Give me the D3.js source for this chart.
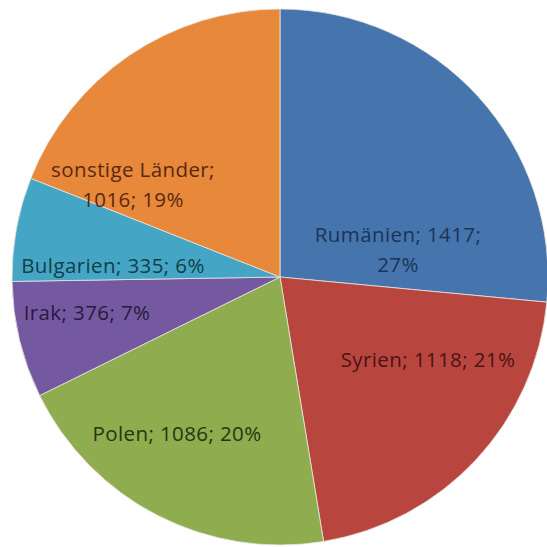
<!DOCTYPE html>
<html><head><meta charset="utf-8">
<script src="https://cdn.jsdelivr.net/npm/d3@7"></script>
<style>html,body{margin:0;padding:0;background:#fff;}svg{display:block;}</style>
</head><body>
<script>
const categories = ["Rumänien", "Syrien", "Polen", "Irak", "Bulgarien", "sonstige Länder"];
const values = [1417, 1118, 1086, 376, 335, 1016];
const percentLabels = ["27%", "21%", "20%", "7%", "6%", "19%"];
const colors = ["#4674ad", "#b8463f", "#8fad4f", "#7559a0", "#44a6c4", "#e8883a"];
const textColors = ["#1b3458", "#4a1412", "#26360f", "#281a40", "#123e4c", "#5a2810"];

const W = 547, H = 547, cx = 280, cy = 277, R = 268;
// label line layout (offsets from pie centre), per slice
const labelLayout = [
  {dx: 118, dy: -27, lines: (c,v,p) => [c + "; " + v + ";", p]},
  {dx: 148, dy: 83,  lines: (c,v,p) => [c + "; " + v + "; " + p]},
  {dx: -103, dy: 157, lines: (c,v,p) => [c + "; " + v + "; " + p]},
  {dx: -193, dy: 36, lines: (c,v,p) => [c + "; " + v + "; " + p]},
  {dx: -167, dy: -11, lines: (c,v,p) => [c + "; " + v + "; " + p]},
  {dx: -147, dy: -92, lines: (c,v,p) => [c + ";", v + "; " + p]}
];

const svg = d3.select("body").append("svg").attr("width", W).attr("height", H);
const g = svg.append("g").attr("transform", `translate(${cx},${cy})`);

const data = categories.map((c, i) => ({c, v: values[i], p: percentLabels[i], i}));
const pie = d3.pie().value(d => d.v).sort(null);
const arc = d3.arc().innerRadius(0).outerRadius(R);
const arcs = pie(data);

g.selectAll("path").data(arcs).join("path")
  .attr("d", arc)
  .attr("fill", d => colors[d.data.i])
  .attr("stroke", "#e8e4e0")
  .attr("stroke-width", 0.8);

const lineH = 30;
arcs.forEach(d => {
  const L = labelLayout[d.data.i];
  const lines = L.lines(d.data.c, d.data.v, d.data.p);
  const t = g.append("text")
    .attr("text-anchor", "middle")
    .attr("font-family", "'Open Sans', Lato, sans-serif")
    .attr("font-size", 20.5)
    .attr("letter-spacing", 0.4)
    .attr("fill", textColors[d.data.i]);
  lines.forEach((s, k) => {
    t.append("tspan").attr("x", L.dx)
      .attr("y", L.dy + (k - (lines.length - 1) / 2) * lineH + 7)
      .text(s);
  });
});
</script>
</body></html>
